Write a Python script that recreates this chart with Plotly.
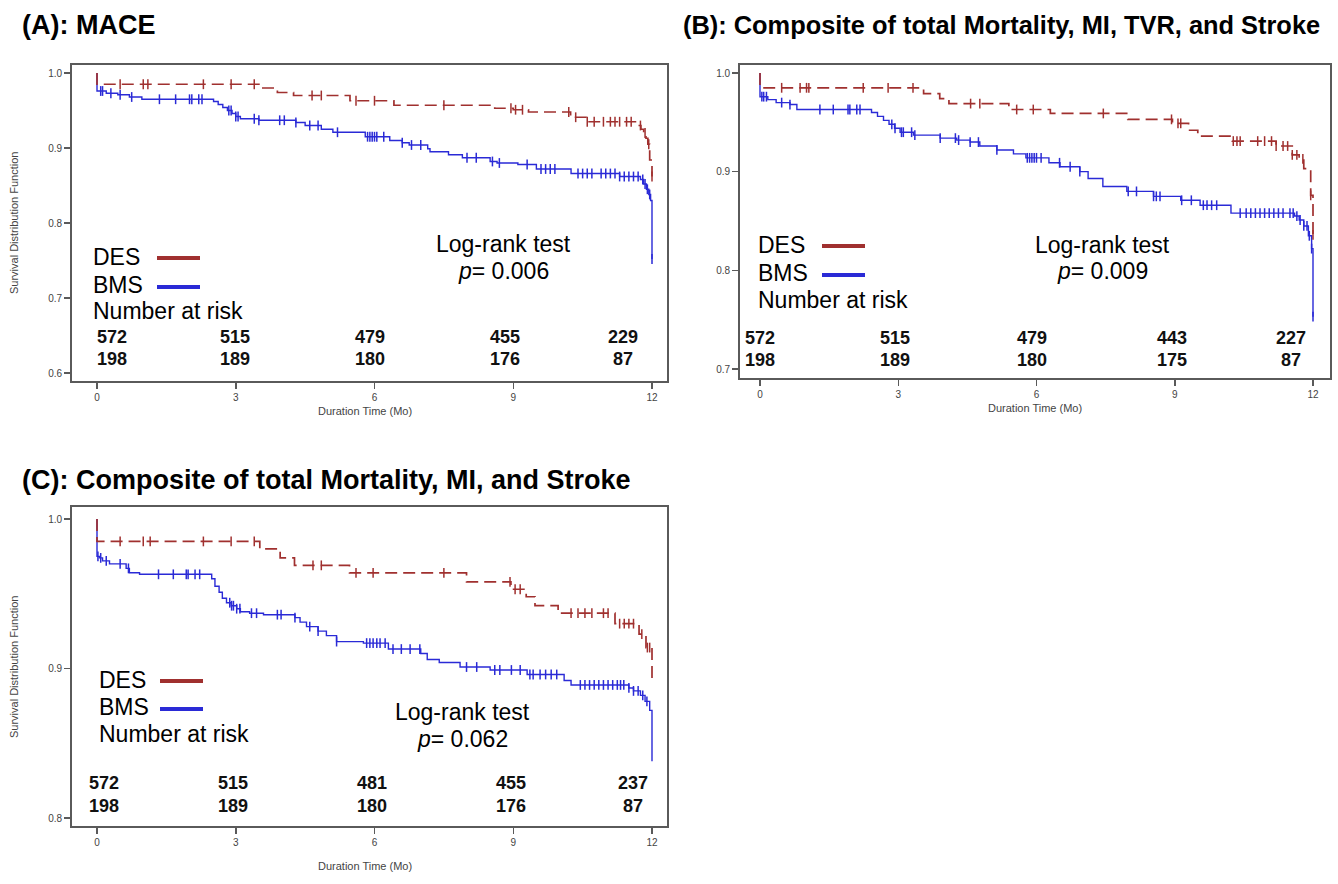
import numpy as np
import plotly.graph_objects as go

W, H = 1338, 884

# ---------------- data ----------------
months = [0, 3, 6, 9, 12]

# Panel A: MACE
A_des_t = [0, 0, 3.50, 3.90, 4.25, 5.47, 6.42, 8.60, 9.00, 9.33, 10.24, 10.60, 11.70, 11.76, 11.82, 11.87, 11.91, 11.95, 12.0]
A_des_s = [1.0, 0.985, 0.980, 0.974, 0.970, 0.963, 0.957, 0.953, 0.951, 0.948, 0.941, 0.935, 0.930, 0.925, 0.920, 0.913, 0.905, 0.884, 0.862]
A_bms_t = [0, 0, 0.20, 0.45, 0.70, 0.97, 2.52, 2.62, 2.72, 2.82, 2.92, 3.00, 3.10, 3.50, 4.30, 4.50, 4.85, 5.10, 5.80,
           6.33, 6.60, 6.75, 7.15, 7.20, 7.60, 7.90, 8.50, 8.65, 9.10, 9.50, 10.25, 11.30, 11.75, 11.82, 11.88, 11.93, 11.97, 12.0]
A_bms_s = [1.0, 0.976, 0.973, 0.971, 0.968, 0.965, 0.962, 0.958, 0.954, 0.950, 0.946, 0.942, 0.939, 0.937, 0.934, 0.930, 0.925, 0.921, 0.915,
           0.910, 0.907, 0.904, 0.899, 0.895, 0.891, 0.887, 0.882, 0.880, 0.878, 0.872, 0.866, 0.862, 0.858, 0.852, 0.845, 0.838, 0.830, 0.752]
A_des_cens = [0.5, 1.0, 1.1, 2.3, 2.9, 3.4, 4.65, 4.85, 5.6, 6.0, 7.5, 8.95, 9.05, 9.2, 10.2, 10.35, 10.6, 10.75, 10.95, 11.1,
              11.2, 11.3, 11.45, 11.55, 11.75, 11.85, 11.93, 12.0]
A_bms_cens = [0.08, 0.12, 0.3, 0.5, 0.75, 1.35, 1.7, 2.0, 2.05, 2.2, 2.27, 2.85, 2.9, 3.0, 3.05, 3.4, 3.5, 3.95, 4.05, 4.3, 4.6,
              4.78, 5.2, 5.85, 5.9, 5.95, 6.0, 6.05, 6.2, 6.6, 6.8, 7.0, 8.0, 8.2, 8.55, 8.7, 9.3, 9.6, 9.7, 9.8, 9.9, 10.4, 10.5,
              10.6, 10.7, 10.9, 11.0, 11.1, 11.2, 11.3, 11.4, 11.5, 11.6, 11.7, 11.8, 11.85, 11.9, 11.95, 12.0]

# Panel B: total mortality, MI, TVR, stroke
B_des_t = [0, 0, 3.55, 3.90, 4.10, 5.40, 6.30, 7.98, 8.95, 9.30, 9.50, 10.25, 11.20, 11.55, 11.70, 11.80, 11.95, 12.0]
B_des_s = [1.0, 0.985, 0.979, 0.974, 0.969, 0.963, 0.959, 0.953, 0.949, 0.942, 0.936, 0.931, 0.926, 0.917, 0.913, 0.903, 0.876, 0.836]
B_bms_t = [0, 0, 0.17, 0.35, 0.65, 0.80, 2.42, 2.55, 2.68, 2.80, 2.92, 3.04, 3.33, 3.91, 4.27, 4.56, 4.77, 5.14,
           5.50, 5.77, 6.27, 6.51, 6.94, 7.12, 7.44, 7.96, 8.54, 9.13, 9.55, 10.22, 11.60, 11.70, 11.80, 11.90, 11.97, 12.0]
B_bms_s = [1.0, 0.976, 0.973, 0.970, 0.968, 0.963, 0.960, 0.956, 0.952, 0.948, 0.944, 0.940, 0.937, 0.934, 0.932, 0.930, 0.926, 0.922,
           0.918, 0.914, 0.909, 0.905, 0.900, 0.893, 0.885, 0.880, 0.875, 0.871, 0.866, 0.858, 0.855, 0.851, 0.845, 0.835, 0.822, 0.753]
B_des_cens = [0.47, 0.87, 1.01, 1.06, 2.24, 2.78, 3.32, 4.57, 4.77, 5.57, 5.93, 7.45, 8.93, 9.07, 9.13, 10.27, 10.35, 10.42,
              10.8, 10.95, 11.1, 11.2, 11.35, 11.45, 11.55, 11.65, 11.78, 11.95, 12.0]
B_bms_cens = [0.04, 0.08, 0.14, 0.47, 0.65, 1.3, 1.59, 1.91, 1.95, 2.1, 2.17, 2.86, 2.93, 3.07, 3.11, 3.29, 3.36, 3.91, 4.24,
              4.31, 4.56, 4.74, 5.14, 5.8, 5.85, 5.9, 5.95, 6.0, 6.1, 6.5, 6.73, 6.94, 7.99, 8.17, 8.54, 8.6, 8.68, 9.15, 9.36,
              9.62, 9.7, 9.8, 9.91, 10.42, 10.55, 10.65, 10.75, 10.85, 10.95, 11.05, 11.15, 11.25, 11.35, 11.5, 11.57, 11.65,
              11.72, 11.8, 11.87, 11.92, 11.97, 12.0]

# Panel C: total mortality, MI, stroke
C_des_t = [0, 0, 3.52, 3.96, 4.27, 5.46, 7.99, 8.95, 9.28, 9.47, 9.97, 11.20, 11.72, 11.87, 12.0]
C_des_s = [1.0, 0.985, 0.980, 0.974, 0.969, 0.964, 0.958, 0.953, 0.948, 0.942, 0.937, 0.930, 0.923, 0.914, 0.893]
C_bms_t = [0, 0, 0.05, 0.12, 0.27, 0.63, 0.70, 0.92, 2.48, 2.55, 2.64, 2.71, 2.80, 2.90, 3.02, 3.10, 3.30, 3.60, 4.28, 4.39,
           4.53, 4.78, 4.96, 5.18, 5.76, 6.30, 7.00, 7.14, 7.40, 7.85, 8.50, 9.30, 10.10, 10.25, 11.50, 11.60, 11.75, 11.85, 11.95, 12.0]
C_bms_s = [1.0, 0.975, 0.974, 0.972, 0.970, 0.967, 0.964, 0.963, 0.960, 0.955, 0.951, 0.947, 0.944, 0.942, 0.940, 0.938, 0.937,
           0.936, 0.934, 0.931, 0.928, 0.925, 0.922, 0.918, 0.917, 0.913, 0.910, 0.906, 0.904, 0.901, 0.899, 0.896, 0.892, 0.889,
           0.887, 0.885, 0.882, 0.878, 0.872, 0.838]
C_des_cens = [0.5, 1.0, 1.15, 2.3, 2.9, 3.4, 4.67, 4.85, 5.6, 5.97, 7.5, 8.93, 9.04, 9.15, 10.25, 10.4, 10.55, 10.7, 10.95,
              11.05, 11.3, 11.4, 11.5, 11.6, 11.78, 11.9, 11.95]
C_bms_cens = [0.02, 0.08, 0.2, 0.5, 0.68, 1.33, 1.65, 1.93, 1.97, 2.12, 2.22, 2.87, 2.91, 2.95, 3.02, 3.09, 3.34, 3.45, 3.9,
              3.98, 4.28, 4.6, 4.78, 5.18, 5.83, 5.9, 5.97, 6.05, 6.12, 6.23, 6.4, 6.58, 6.77, 6.98, 7.99, 8.21, 8.6, 8.71,
              8.96, 9.15, 9.36, 9.43, 9.58, 9.7, 9.82, 9.94, 10.45, 10.55, 10.65, 10.75, 10.85, 10.95, 11.05, 11.15, 11.25,
              11.32, 11.39, 11.5, 11.6, 11.7, 11.8, 11.89]

risk_A_des = [572, 515, 479, 455, 229]
risk_A_bms = [198, 189, 180, 176, 87]
risk_B_des = [572, 515, 479, 443, 227]
risk_B_bms = [198, 189, 180, 175, 87]
risk_C_des = [572, 515, 481, 455, 237]
risk_C_bms = [198, 189, 180, 176, 87]

titles = ["(A): MACE",
          "(B): Composite of total Mortality, MI, TVR, and Stroke",
          "(C): Composite of total Mortality, MI, and Stroke"]
p_values = ["0.006", "0.009", "0.062"]
A_yticks = [0.6, 0.7, 0.8, 0.9, 1.0]
B_yticks = [0.7, 0.8, 0.9, 1.0]
C_yticks = [0.8, 0.9, 1.0]

# ---------------- styling / layout ----------------
RED = "#a0302f"
BLUE = "#2a2ad6"
FRAME = "#5a5a5a"
TXT = "Liberation Sans, Arial, sans-serif"
NARROW = "Liberation Sans Narrow, Arial Narrow, Liberation Sans, Arial, sans-serif"

panels = [
    dict(key="A", left=72, right=667, top=65, bottom=381, x0=97, x12=652, hi=(1.0, 73), lo=(0.6, 373),
         yticks=A_yticks, des=(A_des_t, A_des_s, A_des_cens), bms=(A_bms_t, A_bms_s, A_bms_cens),
         risk=(risk_A_des, risk_A_bms), risk_x=[112, 235, 370, 505, 623], risk_y=(337, 359),
         leg_x=91, leg_y=(257, 285, 311), samp=(157, 200), lr=(504, 244, 271), title=(20, 25, 27),
         xt=(365, 411), yt=(14, 223)),
    dict(key="B", left=740, right=1330, top=65, bottom=378, x0=760, x12=1313, hi=(1.0, 73), lo=(0.7, 369),
         yticks=B_yticks, des=(B_des_t, B_des_s, B_des_cens), bms=(B_bms_t, B_bms_s, B_bms_cens),
         risk=(risk_B_des, risk_B_bms), risk_x=[760, 895, 1032, 1172, 1291], risk_y=(338, 360),
         leg_x=756, leg_y=(245, 273, 300), samp=(822, 865), lr=(1102, 245, 271), title=(681, 25, 25.4),
         xt=(1035, 408), yt=None),
    dict(key="C", left=72, right=667, top=507, bottom=826, x0=97, x12=652, hi=(1.0, 519), lo=(0.8, 818),
         yticks=C_yticks, des=(C_des_t, C_des_s, C_des_cens), bms=(C_bms_t, C_bms_s, C_bms_cens),
         risk=(risk_C_des, risk_C_bms), risk_x=[104, 233, 372, 511, 633], risk_y=(783, 806),
         leg_x=97, leg_y=(680, 707, 734), samp=(160, 203), lr=(462, 712, 739), title=(20, 480, 27),
         xt=(365, 866), yt=(14, 667)),
]


def px(x):
    return x / W


def py(y):
    return 1 - y / H


def step_value(t, s, c):
    t = np.asarray(t)
    s = np.asarray(s)
    idx = np.searchsorted(t, np.asarray(c), side="right") - 1
    return s[idx]


fig = go.Figure()
annotations = []
shapes = []

for i, p in enumerate(panels):
    n = "" if i == 0 else str(i + 1)
    xa, ya = "x" + n, "y" + n
    # axis ranges from pixel calibration
    xs = (p["x12"] - p["x0"]) / 12.0
    xr = [(p["left"] - p["x0"]) / xs, (p["right"] - p["x0"]) / xs]
    (vh, ph), (vl, pl) = p["hi"], p["lo"]
    ys = (pl - ph) / (vh - vl)
    yr = [vl - (p["bottom"] - pl) / ys, vh + (ph - p["top"]) / ys]

    for (tt, ss, cc), col, dash, lw in [(p["bms"], BLUE, "solid", 1.4), (p["des"], RED, "12px,6px", 1.7)]:
        fig.add_trace(go.Scatter(x=tt, y=ss, mode="lines", line=dict(color=col, width=lw, dash=dash, shape="hv"),
                                 xaxis=xa, yaxis=ya, showlegend=False, hoverinfo="skip"))
        fig.add_trace(go.Scatter(x=cc, y=step_value(tt, ss, cc), mode="markers",
                                 marker=dict(symbol="line-ns-open", size=7, color=col, line=dict(color=col, width=1.5)),
                                 xaxis=xa, yaxis=ya, showlegend=False, hoverinfo="skip"))

    axx = dict(domain=[px(p["left"]), px(p["right"])], range=xr, anchor=ya, tickvals=months,
               ticktext=[str(m) for m in months], ticks="outside", ticklen=6, tickwidth=1.5, tickcolor=FRAME,
               showline=True, linecolor=FRAME, linewidth=1.8, mirror=True, showgrid=False, zeroline=False,
               fixedrange=True, tickfont=dict(family=NARROW, size=10, color="#444"))
    axy = dict(domain=[py(p["bottom"]), py(p["top"])], range=yr, anchor=xa, tickvals=p["yticks"],
               ticktext=["%.1f" % v for v in p["yticks"]], ticks="outside", ticklen=6, tickwidth=1.5, tickcolor=FRAME,
               showline=True, linecolor=FRAME, linewidth=1.8, mirror=True, showgrid=False, zeroline=False,
               fixedrange=True, tickfont=dict(family=NARROW, size=10, color="#444"))
    fig.update_layout(**{"xaxis" + n: axx, "yaxis" + n: axy})

    # title
    annotations.append(dict(x=px(p["title"][0]), y=py(p["title"][1]), xref="paper", yref="paper",
                            text="<b>%s</b>" % titles[i], showarrow=False, xanchor="left", yanchor="middle",
                            font=dict(family=TXT, size=p["title"][2], color="black")))
    # axis titles
    annotations.append(dict(x=px(p["xt"][0]), y=py(p["xt"][1]), xref="paper", yref="paper",
                            text="Duration Time (Mo)", showarrow=False, xanchor="center", yanchor="middle",
                            font=dict(family=NARROW, size=11, color="#444")))
    if p["yt"]:
        annotations.append(dict(x=px(p["yt"][0]), y=py(p["yt"][1]), xref="paper", yref="paper",
                                text="Survival Distribution Function", showarrow=False, textangle=-90,
                                xanchor="center", yanchor="middle", font=dict(family=NARROW, size=11, color="#444")))
    # in-plot legend
    for lab, yy in zip(["DES", "BMS", "Number at risk"], p["leg_y"]):
        annotations.append(dict(x=px(p["leg_x"]), y=py(yy), xref="paper", yref="paper", text=lab, showarrow=False,
                                xanchor="left", yanchor="middle", font=dict(family=TXT, size=23, color="black")))
    for col, yy in [(RED, p["leg_y"][0] + 1), (BLUE, p["leg_y"][1] + 2)]:
        shapes.append(dict(type="line", xref="paper", yref="paper", x0=px(p["samp"][0]), x1=px(p["samp"][1]),
                           y0=py(yy), y1=py(yy), line=dict(color=col, width=4)))
    # log-rank text
    annotations.append(dict(x=px(p["lr"][0]), y=py(p["lr"][1]), xref="paper", yref="paper", text="Log-rank test",
                            showarrow=False, xanchor="center", yanchor="middle",
                            font=dict(family=TXT, size=23, color="black")))
    annotations.append(dict(x=px(p["lr"][0]), y=py(p["lr"][2]), xref="paper", yref="paper",
                            text="<i>p</i>= %s" % p_values[i], showarrow=False, xanchor="center", yanchor="middle",
                            font=dict(family=TXT, size=23, color="black")))
    # number at risk
    for row, yy in zip(p["risk"], p["risk_y"]):
        for val, xx in zip(row, p["risk_x"]):
            annotations.append(dict(x=px(xx), y=py(yy), xref="paper", yref="paper", text="<b>%d</b>" % val,
                                    showarrow=False, xanchor="center", yanchor="middle",
                                    font=dict(family=NARROW, size=18, color="#111")))

fig.update_layout(width=W, height=H, margin=dict(l=0, r=0, t=0, b=0), paper_bgcolor="white",
                  plot_bgcolor="white", annotations=annotations, shapes=shapes, showlegend=False,
                  hovermode=False, dragmode=False)
fig.write_html("out.html", config={"displayModeBar": False, "staticPlot": True},
               post_script="document.body.style.margin='0px';document.body.style.overflow='hidden';")
